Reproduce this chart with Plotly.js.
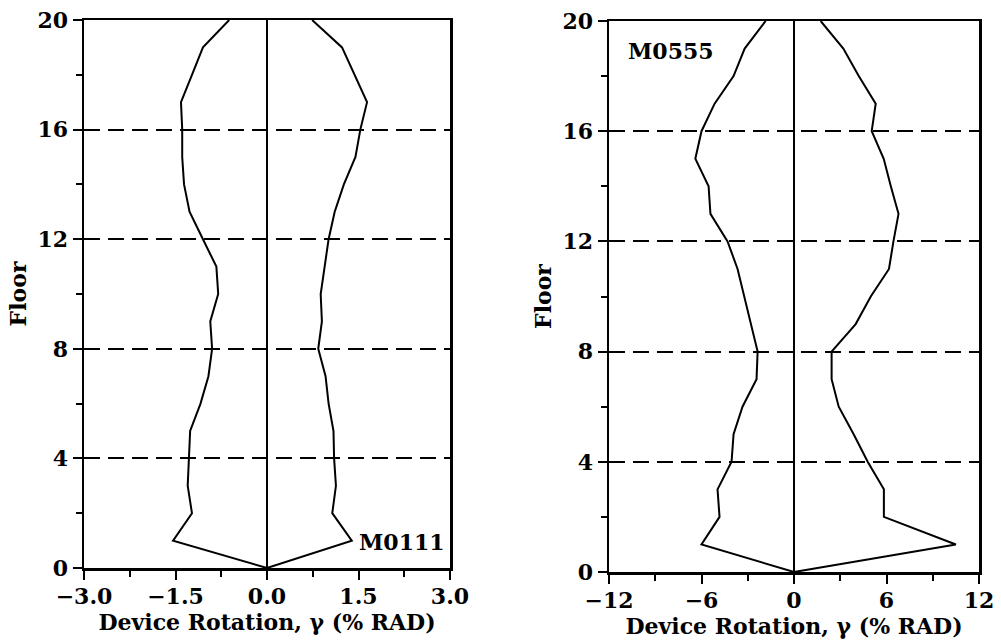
<!DOCTYPE html>
<html>
<head>
<meta charset="utf-8">
<script src="https://cdn.plot.ly/plotly-3.0.1.min.js"></script>
<style>html,body{margin:0;padding:0;background:#fff;}#chart{width:1001px;height:644px;}</style>
</head>
<body>
<div id="chart"></div>
<script>
// Data
const floors = [0,1,2,3,4,5,6,7,8,9,10,11,12,13,14,15,16,17,18,19,20];
const m0111Neg = [0,-1.54,-1.23,-1.30,-1.28,-1.26,-1.09,-0.96,-0.90,-0.93,-0.80,-0.83,-1.05,-1.27,-1.36,-1.39,-1.39,-1.41,-1.23,-1.05,-0.62];
const m0111Pos = [0,1.39,1.07,1.13,1.10,1.09,1.01,0.96,0.84,0.90,0.88,0.95,1.01,1.11,1.26,1.45,1.53,1.64,1.44,1.23,0.74];
const m0555Neg = [0,-6.0,-4.83,-4.96,-4.05,-3.92,-3.34,-2.43,-2.36,-2.80,-3.27,-3.66,-4.31,-5.42,-5.54,-6.40,-6.00,-5.15,-3.92,-3.20,-1.84];
const m0555Pos = [0,10.5,5.83,5.83,4.78,3.87,2.90,2.44,2.44,4.00,4.98,6.16,6.45,6.78,6.28,5.82,5.04,5.30,4.20,3.20,1.73];
const leftTicks = [-3.0,-1.5,0.0,1.5,3.0];
const rightTicks = [-12,-6,0,6,12];
const floorTicks = [0,4,8,12,16,20];
const xTitle = 'Device Rotation, γ (% RAD)';
const yTitle = 'Floor';
const labelLeft = 'M0111';
const labelRight = 'M0555';

const FONT = 'DejaVu Serif, Liberation Serif, serif';
const lineStyle = {color:'#000', width:2};

const traces = [
  {x:m0111Neg, y:floors, xaxis:'x', yaxis:'y', mode:'lines', line:lineStyle, hoverinfo:'skip'},
  {x:m0111Pos, y:floors, xaxis:'x', yaxis:'y', mode:'lines', line:lineStyle, hoverinfo:'skip'},
  {x:m0555Neg, y:floors, xaxis:'x2', yaxis:'y2', mode:'lines', line:lineStyle, hoverinfo:'skip'},
  {x:m0555Pos, y:floors, xaxis:'x2', yaxis:'y2', mode:'lines', line:lineStyle, hoverinfo:'skip'}
];

function xAxis(domain, ticks, minorStep, fmt, anchor){
  return {
    domain: domain, anchor: anchor,
    range: [ticks[0], ticks[ticks.length-1]],
    tickvals: ticks, tickformat: fmt,
    ticks:'outside', ticklen:9, tickwidth:2, tickcolor:'#000',
    ticklabelstandoff:-2,
    minor:{dtick:minorStep, tick0:ticks[0], ticks:'outside', ticklen:6, tickwidth:2, tickcolor:'#000', showgrid:false},
    showline:true, linecolor:'#000', linewidth:2.5, mirror:true,
    showgrid:false, zeroline:true, zerolinecolor:'#000', zerolinewidth:2,
    tickfont:{family:FONT, size:22, color:'#000', weight:'bold'},
    title:{text:xTitle, font:{family:FONT, size:22, color:'#000', weight:'bold'}, standoff:0},
    automargin:false, fixedrange:true
  };
}
function yAxis(domain, anchor){
  return {
    domain: domain, anchor: anchor,
    range:[0,20], tickvals: floorTicks,
    ticks:'outside', ticklen:9, tickwidth:2, tickcolor:'#000',
    minor:{dtick:2, tick0:0, ticks:'outside', ticklen:6, tickwidth:2, tickcolor:'#000', showgrid:false},
    showline:true, linecolor:'#000', linewidth:2.5, mirror:true,
    showgrid:true, gridcolor:'#000', gridwidth:2, griddash:'16px,8px',
    zeroline:false,
    tickfont:{family:FONT, size:22, color:'#000', weight:'bold'},
    title:{text:yTitle, font:{family:FONT, size:22, color:'#000', weight:'bold'}, standoff:5},
    automargin:false, fixedrange:true
  };
}

const layout = {
  width:1001, height:644,
  margin:{l:0, r:0, t:0, b:0},
  paper_bgcolor:'#fff', plot_bgcolor:'#fff',
  showlegend:false,
  xaxis: xAxis([84/1001, 450/1001], leftTicks, 0.75, '.1f', 'y'),
  yaxis: yAxis([76/644, 624/644], 'x'),
  xaxis2: xAxis([609/1001, 979/1001], rightTicks, 3, 'd', 'y2'),
  yaxis2: yAxis([72/644, 623/644], 'x2'),
  annotations:[
    {text:labelLeft, x:2.21, y:0.95, xref:'x', yref:'y', showarrow:false, xanchor:'center', yanchor:'middle',
     font:{family:FONT, size:22, color:'#000', weight:'bold'}},
    {text:labelRight, x:-8.0, y:18.9, xref:'x2', yref:'y2', showarrow:false, xanchor:'center', yanchor:'middle',
     font:{family:FONT, size:22, color:'#000', weight:'bold'}}
  ]
};

Plotly.newPlot('chart', traces, layout, {staticPlot:true, displayModeBar:false});
</script>
</body>
</html>
